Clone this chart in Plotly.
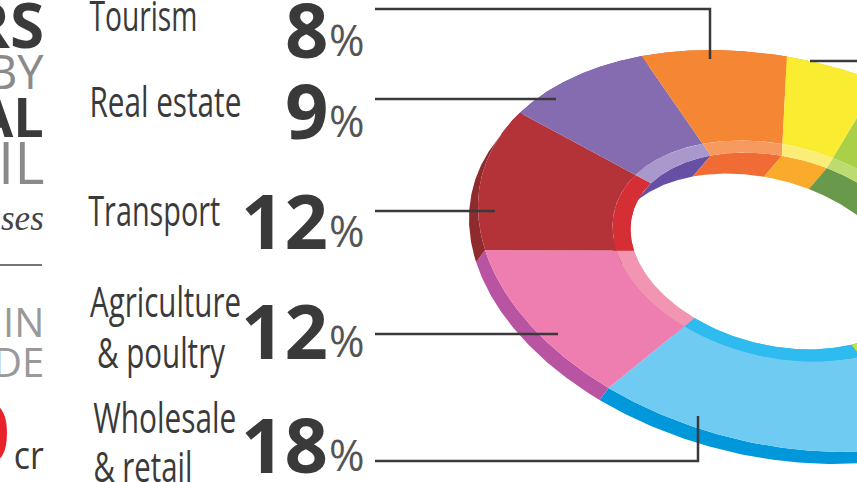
import json
import numpy as np
import plotly.graph_objects as go

# shares, starting at the wholesale slice and going clockwise on screen
categories = ["Wholesale & retail", "Agriculture & poultry", "Transport", "Real estate", "Tourism", "Yellow slice", "Green slice", "Lime slice"]
shares = [18, 12, 12, 9, 8, 5, 15, 21]

top_colors = ["#6FCBF1", "#EE7DB0", "#B43338", "#856BB0", "#F58634", "#F9EC31", "#A9D046", "#A9D046"]
band_colors = ["#2EBBEF", "#F295B3", "#D62E35", "#A898CC", "#F79A60", "#FBEE78", "#BEDB6F", "#C4E04A"]
wall_colors = ["#2EBBEF", "#F295B3", "#D62E35", "#6650A6", "#F16B35", "#FBAB2C", "#69994A", "#69994A"]
side_colors = ["#0097DB", "#B954A3", "#8F2A2F", "#6650A6", "#F16B35", "#FBAB2C", "#69994A", "#69994A"]

# tilted ellipse of the donut, in pixels
cx, cy = 777, 251
sx, sxy, sy = 299, 44.4, 196
start_angle = 59.5
band_r = 0.55
hole_r = 0.49
side_off = (-9, 12)
wall_off = (-18, 21)


def arc(t1, t2, r, off=(0, 0)):
    t = np.radians(np.linspace(t1, t2, 80))
    u, v = r * np.cos(t), r * np.sin(t)
    return cx + sx * u + off[0], cy + sxy * u + sy * v + off[1]


def ring(t1, t2, r1, r2, off1=(0, 0), off2=(0, 0)):
    x1, y1 = arc(t1, t2, r1, off1)
    x2, y2 = arc(t1, t2, r2, off2)
    return np.r_[x1, x2[::-1], x1[0]], np.r_[y1, y2[::-1], y1[0]]


def add_poly(fig, xy, color):
    fig.add_trace(go.Scatter(x=xy[0], y=xy[1], mode="lines", fill="toself", fillcolor=color,
                             line=dict(width=0, color=color), hoverinfo="skip", showlegend=False))


edges = start_angle + np.r_[0, np.cumsum(shares)] * 3.6

fig = go.Figure()

# outer side and hole wall go underneath the top face
for i in range(len(shares)):
    add_poly(fig, ring(edges[i], edges[i + 1], 1, 1, (0, 0), side_off), side_colors[i])
for i in range(len(shares)):
    add_poly(fig, ring(edges[i], edges[i + 1], hole_r, hole_r, (0, 0), wall_off), wall_colors[i])

# top face
for i in range(len(shares)):
    add_poly(fig, ring(edges[i], edges[i + 1], 1, band_r), top_colors[i])
    add_poly(fig, ring(edges[i], edges[i + 1], band_r, hole_r), band_colors[i])

# leader lines
dark = "#3A3A3A"
leaders = [
    ([375, 710, 710], [9, 9, 59]),
    ([375, 556], [99, 99]),
    ([375, 495], [211, 211]),
    ([375, 558], [334, 334]),
    ([375, 698, 698], [461, 461, 416]),
    ([810, 857], [61, 61]),
]
for lx, ly in leaders:
    fig.add_trace(go.Scatter(x=lx, y=ly, mode="lines", line=dict(color=dark, width=2.5),
                             hoverinfo="skip", showlegend=False))


def label(text, x, y, size, color=dark, anchor="right", family="Open Sans", weight="normal", style="normal"):
    fig.add_annotation(x=x, y=y, text=text, showarrow=False, xanchor=anchor, yanchor="middle",
                       xref="x", yref="y", borderpad=0,
                       font=dict(size=size, color=color, family=family, weight=weight, style=style))


# condensed labels: no condensed font here, so the page squeezes them to these widths
label_text = ["Tourism", "Real estate", "Transport", "Agriculture", "& poultry", "Wholesale", "& retail", "cr"]
label_left = [89, 89, 88, 90, 97, 93, 93, 14]
label_right = [197, 241, 220, 241, 225, 236, 192, 44]
label_y = [14, 100, 209, 300, 351, 416, 465, 454]
label_size = [42, 42, 42, 42, 42, 42, 42, 38]
for t, l, r, y, s in zip(label_text, label_left, label_right, label_y, label_size):
    label(t, (l + r) / 2, y, s, anchor="center")
widths = {t: r - l for t, l, r in zip(label_text, label_left, label_right)}

pct_y = [28, 109, 219, 329, 443]
pct_text = ["8", "9", "12", "12", "18"]
for txt, y in zip(pct_text, pct_y):
    label(txt, 329, y, 76, weight="bold")
    label("%", 366, y + 11, 43, color="#555555")

# left column, cut off by the page edge
label("RS", 45, 24, 62, weight="bold")
label("BY", 45, 71, 47, color="#8A8A8A")
label("AL", 45, 116, 54, weight="bold")
label("IL", 45, 161, 58, color="#8A8A8A")
label("ses", 45, 218, 35, family="Liberation Serif", style="italic", color="#444444")
label("IN", 45, 321, 40, color="#999999")
label("DE", 45, 361, 40, color="#999999")
label("0", 11, 430, 84, color="#E8232A", weight="bold")

fig.add_shape(type="line", x0=0, x1=42, y0=265, y1=265, line=dict(color="#777777", width=2))

fig.update_layout(
    width=857, height=482,
    margin=dict(l=0, r=0, t=0, b=0),
    paper_bgcolor="white", plot_bgcolor="white",
    showlegend=False,
)
fig.update_xaxes(range=[0, 857], visible=False)
fig.update_yaxes(range=[482, 0], visible=False)

squeeze = """
document.body.style.margin = '0';
var widths = %s;
document.querySelectorAll('text.annotation-text').forEach(function (t) {
    var w = widths[t.getAttribute('data-unformatted')];
    if (w) {
        t.setAttribute('textLength', w);
        t.setAttribute('lengthAdjust', 'spacingAndGlyphs');
    }
});
""" % json.dumps(widths)

fig.write_html("out.html", post_script=squeeze, config=dict(displayModeBar=False))
